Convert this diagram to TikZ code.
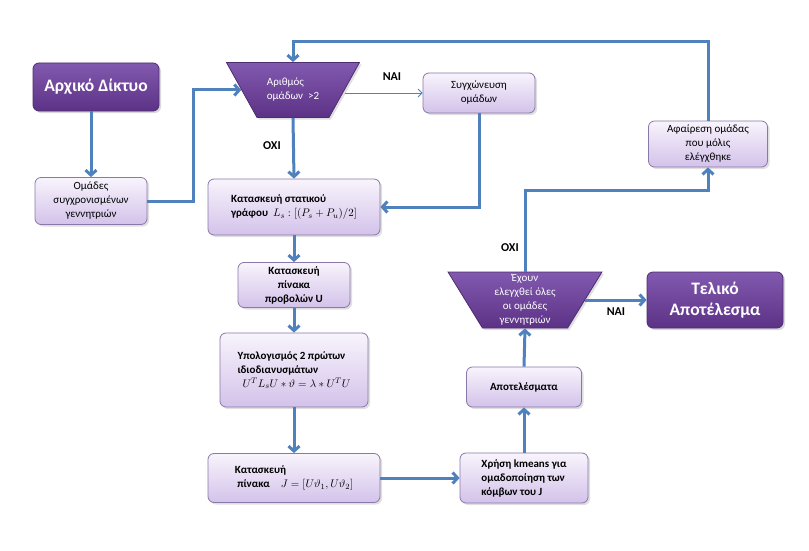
\documentclass[tikz,border=0pt]{standalone}
\usepackage{fontspec}
\setmainfont{Carlito}
\usetikzlibrary{shapes.geometric,arrows.meta,shadows}

\definecolor{flowblue}{HTML}{4F81BD}
\definecolor{darktop}{HTML}{8159AE}
\definecolor{darkbot}{HTML}{5C3286}
\definecolor{darkedge}{HTML}{4E2C72}
\definecolor{lighttop}{HTML}{F8F4FC}
\definecolor{lightbot}{HTML}{D3C2EA}
\definecolor{lightedge}{HTML}{8A78A8}

\tikzset{
	lightbox/.style={rectangle, rounded corners=6pt, draw=lightedge, line width=0.8pt,
		top color=lighttop, bottom color=lightbot, align=center, inner sep=2pt,
		font=\fontsize{11}{14}\selectfont,
		drop shadow={opacity=0.25, shadow xshift=2pt, shadow yshift=-2pt}},
	strong/.style={font=\bfseries\fontsize{11}{14}\selectfont},
	darkbox/.style={rectangle, rounded corners=6pt, draw=darkedge, line width=0.8pt,
		top color=darktop, bottom color=darkbot, align=center, text=white,
		font=\bfseries\fontsize{17.5}{21}\selectfont,
		drop shadow={opacity=0.3, shadow xshift=2pt, shadow yshift=-2pt}},
	decision/.style={trapezium, shape border rotate=180, trapezium stretches,
		draw=darkedge, line width=0.8pt, top color=darktop, bottom color=darkbot, inner sep=4pt,
		drop shadow={opacity=0.25, shadow xshift=2pt, shadow yshift=-2pt}},
	dectext/.style={text=white, font=\fontsize{11}{14}\selectfont},
	answer/.style={font=\bfseries\fontsize{12}{14}\selectfont},
	flow/.style={line width=3pt, draw=flowblue, -{Straight Barb[length=5pt,width=11pt]}},
	thinflow/.style={line width=0.8pt, draw=flowblue, -{Straight Barb[length=4pt,width=8pt]}}
}

\begin{document}
\begin{tikzpicture}[x=1pt,y=-1pt]
	\useasboundingbox (0,0) rectangle (809,551);

	% boxes
	\node[darkbox, minimum width=126pt, minimum height=48pt] (start) at (96,87) {Αρχικό Δίκτυο};
	\node[lightbox, minimum width=112pt, minimum height=47pt] (groups) at (91,201) {Ομάδες\\συγχρονισμένων\\γεννητριών};
	\node[decision, minimum width=133pt, minimum height=55pt, trapezium angle=67,
		label={[dectext, align=left]center:Αριθμός\\ομάδων\ \ >2}] (count) at (293,90) {};
	\node[lightbox, minimum width=112pt, minimum height=40pt] (merge) at (479,93) {Συγχώνευση\\ομάδων};
	\node[lightbox, strong, align=left, minimum width=172pt, minimum height=56pt] (graph) at (294,207)
		{Κατασκευή στατικού\\γράφου\ \ $L_s : [(P_s + P_u)/2]$};
	\node[lightbox, strong, minimum width=112pt, minimum height=45pt] (proj) at (294,285) {Κατασκευή\\πίνακα\\προβολών U};
	\node[lightbox, strong, align=left, minimum width=148pt, minimum height=74pt] (eig) at (294,370)
		{Υπολογισμός 2 πρώτων\\ιδιοδιανυσμάτων\\\ \ $U^T L_s U * \vartheta = \lambda * U^T U$};
	\node[lightbox, strong, align=left, minimum width=172pt, minimum height=49pt] (jmat) at (294,478)
		{Κατασκευή\\\ πίνακα\quad $J = [U\vartheta_1, U\vartheta_2]$};
	\node[lightbox, strong, align=left, minimum width=128pt, minimum height=50pt] (kmeans) at (524,478)
		{Χρήση kmeans για\\ομαδοποίηση των\\κόμβων του J};
	\node[lightbox, strong, minimum width=115pt, minimum height=40pt] (results) at (524,387) {Αποτελέσματα};
	\node[decision, minimum width=154pt, minimum height=56pt, trapezium angle=68,
		label={[dectext, align=center]center:Έχουν\\ελεγχθεί όλες\\οι ομάδες\\γεννητριών}] (checked) at (525,300) {};
	\node[darkbox, minimum width=136pt, minimum height=56pt] (final) at (715,300) {Τελικό\\Αποτέλεσμα};
	\node[lightbox, minimum width=119pt, minimum height=46pt] (remove) at (708,144) {Αφαίρεση ομάδας\\που μόλις\\ελέγχθηκε};

	% answers
	\node[answer] (yes1) at (392,77) {ΝΑΙ};
	\node[answer] (no1) at (272,146) {ΟΧΙ};
	\node[answer] (no2) at (510,248) {ΟΧΙ};
	\node[answer] (yes2) at (616,312) {ΝΑΙ};

	\coordinate (top) at (0,42);
	\coordinate (mid) at (0,190);
	\coordinate (bend) at (193,0);

	% connectors
	\draw[flow] (start.south -| groups.north) -- (groups.north);
	\draw[flow] (groups.east) -- (bend |- groups.east) -- (bend |- count.west) -- (count.west);
	\draw[flow] (count.south) -- (graph.north);
	\draw[thinflow] ([yshift=-3pt]count.east) -- (merge.west);
	\draw[flow] (merge.south) |- (graph.east);
	\draw[flow] (graph.south) -- (proj.north);
	\draw[flow] (proj.south) -- (eig.north);
	\draw[flow] (eig.south) -- (jmat.north);
	\draw[flow] (jmat.east) -- (kmeans.west);
	\draw[flow] (kmeans.north) -- (results.south);
	\draw[flow] (results.north) -- (checked.south);
	\draw[flow] (checked.east) -- (final.west);
	\draw[flow] (checked.north) -- (checked.north |- mid) -| (remove.south);
	\draw[flow] (remove.north) -- (remove.north |- top) -| (count.north);
\end{tikzpicture}
\end{document}
